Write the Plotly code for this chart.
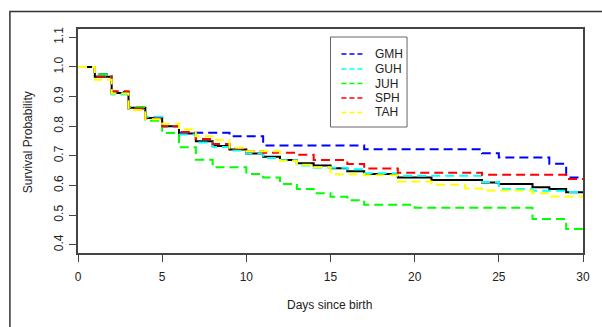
import plotly.graph_objects as go

# ---- data ----
all_t = [0,1,2,3,4,5,6,7,8,9,10,11,12,13,14,15,16,17,19,21,24,25,27,28,29,30]
all_s = [1.0,0.967,0.912,0.862,0.828,0.800,0.775,0.749,0.733,0.721,0.708,0.697,0.686,0.675,0.667,0.658,0.648,0.639,0.627,0.618,0.610,0.605,0.594,0.588,0.577,0.577]

gmh_t = [0,1,2,3,4,5,6,9,11,17,24,25,28,29,30]
gmh_s = [1.0,0.975,0.915,0.860,0.830,0.800,0.778,0.766,0.735,0.722,0.709,0.694,0.673,0.627,0.627]

guh_t = [0,1,2,3,4,5,6,7,8,9,10,11,12,13,14,16,17,19,24,25,27,29,30]
guh_s = [1.0,0.970,0.907,0.860,0.832,0.800,0.772,0.745,0.730,0.718,0.708,0.693,0.685,0.667,0.660,0.655,0.641,0.633,0.612,0.588,0.582,0.578,0.578]

juh_t = [0,1,2,3,4,5,6,7,8,10,11,12,13,14,15,16,17,20,27,29,30]
juh_s = [1.0,0.975,0.910,0.865,0.818,0.777,0.729,0.687,0.661,0.639,0.627,0.605,0.588,0.574,0.562,0.550,0.535,0.525,0.487,0.453,0.453]

sph_t = [0,1,2,3,4,5,6,7,8,9,10,11,13,14,16,17,19,24,29,30]
sph_s = [1.0,0.968,0.918,0.860,0.826,0.800,0.780,0.757,0.740,0.725,0.715,0.710,0.704,0.686,0.672,0.657,0.643,0.636,0.622,0.622]

tah_t = [0,1,2,3,4,5,6,7,8,9,10,12,13,14,15,17,19,21,23,24,27,28,30]
tah_s = [1.0,0.957,0.910,0.855,0.823,0.808,0.790,0.766,0.753,0.727,0.715,0.683,0.670,0.661,0.638,0.634,0.613,0.602,0.590,0.583,0.574,0.563,0.563]

groups = ["GMH", "GUH", "JUH", "SPH", "TAH"]
colors = ["#0000FF", "#00FFFF", "#00FF00", "#FF0000", "#FFFF00"]
x_ticks = [0, 5, 10, 15, 20, 25, 30]
y_ticks = [0.4, 0.5, 0.6, 0.7, 0.8, 0.9, 1.0, 1.1]
y_tick_labels = ["0.4", "0.5", "0.6", "0.7", "0.8", "0.9", "1.0", "1.1"]

series = [(gmh_t, gmh_s), (guh_t, guh_s), (juh_t, juh_s), (sph_t, sph_s), (tah_t, tah_s)]

FONT = "Liberation Sans, Arial, sans-serif"
W, H = 602, 327
L, R, T, B = 78, 586, 29, 253
PW, PH = R - L, B - T

def px(xp):
    return (xp - L) / PW

def py(yp):
    return (B - yp) / PH

fig = go.Figure()
fig.add_trace(go.Scatter(x=all_t, y=all_s, mode="lines", line_shape="hv",
                         line=dict(color="black", width=2), showlegend=False))
for name, col, (t, s) in zip(groups, colors, series):
    fig.add_trace(go.Scatter(x=t, y=s, mode="lines", line_shape="hv", name=name,
                             line=dict(color=col, width=2, dash="9px,5px"),
                             showlegend=False))

shapes = []
annotations = []
# outer frame (left and top edges visible)
shapes.append(dict(type="rect", xref="paper", yref="paper",
                   x0=px(9.5), x1=px(640), y0=py(11.5), y1=py(400),
                   line=dict(color="#333333", width=1.5), layer="below"))
# legend box
shapes.append(dict(type="rect", xref="paper", yref="paper",
                   x0=px(332), x1=px(409), y0=py(37), y1=py(127),
                   line=dict(color="#666666", width=1), fillcolor="white"))
leg_y = [54, 69, 83.5, 98, 112.5]
for name, col, yy in zip(groups, colors, leg_y):
    shapes.append(dict(type="line", xref="paper", yref="paper",
                       x0=px(343), x1=px(366), y0=py(yy), y1=py(yy),
                       line=dict(color=col, width=1.5, dash="5px,3px")))
    annotations.append(dict(xref="paper", yref="paper", x=px(375), y=py(yy),
                            text=name, showarrow=False, xanchor="left", yanchor="middle",
                            font=dict(family=FONT, size=12, color="#222222")))

annotations.append(dict(xref="paper", yref="paper", x=px(331), y=py(305),
                        text="Days since birth", showarrow=False,
                        xanchor="center", yanchor="middle",
                        font=dict(family=FONT, size=12, color="#222222")))
annotations.append(dict(xref="paper", yref="paper", x=px(28), y=py(142),
                        text="Survival Probability", showarrow=False, textangle=-90,
                        xanchor="center", yanchor="middle",
                        font=dict(family=FONT, size=12, color="#222222")))

fig.update_layout(
    width=W, height=H,
    margin=dict(l=L, r=W - R, t=T, b=H - B, pad=0),
    paper_bgcolor="white", plot_bgcolor="white",
    shapes=shapes, annotations=annotations,
    showlegend=False,
    font=dict(family=FONT, size=12, color="#222222"),
)
fig.update_xaxes(range=[0, 30], tickvals=x_ticks, ticks="outside", ticklen=7,
                 tickcolor="#444444", tickwidth=1, ticklabelstandoff=5,
                 showline=True, mirror=True, linecolor="#444444", linewidth=1.5,
                 showgrid=False, zeroline=False,
                 tickfont=dict(family=FONT, size=12, color="#222222"))
fig.update_yaxes(range=[0.372, 1.128], tickvals=y_ticks, ticktext=y_tick_labels,
                 ticks="outside", ticklen=7, tickcolor="#444444", tickwidth=1,
                 tickangle=-90, ticklabelstandoff=1,
                 showline=True, mirror=True, linecolor="#444444", linewidth=1.5,
                 showgrid=False, zeroline=False,
                 tickfont=dict(family=FONT, size=12, color="#222222"))

fig.write_html("out.html", config={"displayModeBar": False},
               post_script="document.body.style.margin='0';document.body.style.overflow='hidden';")
